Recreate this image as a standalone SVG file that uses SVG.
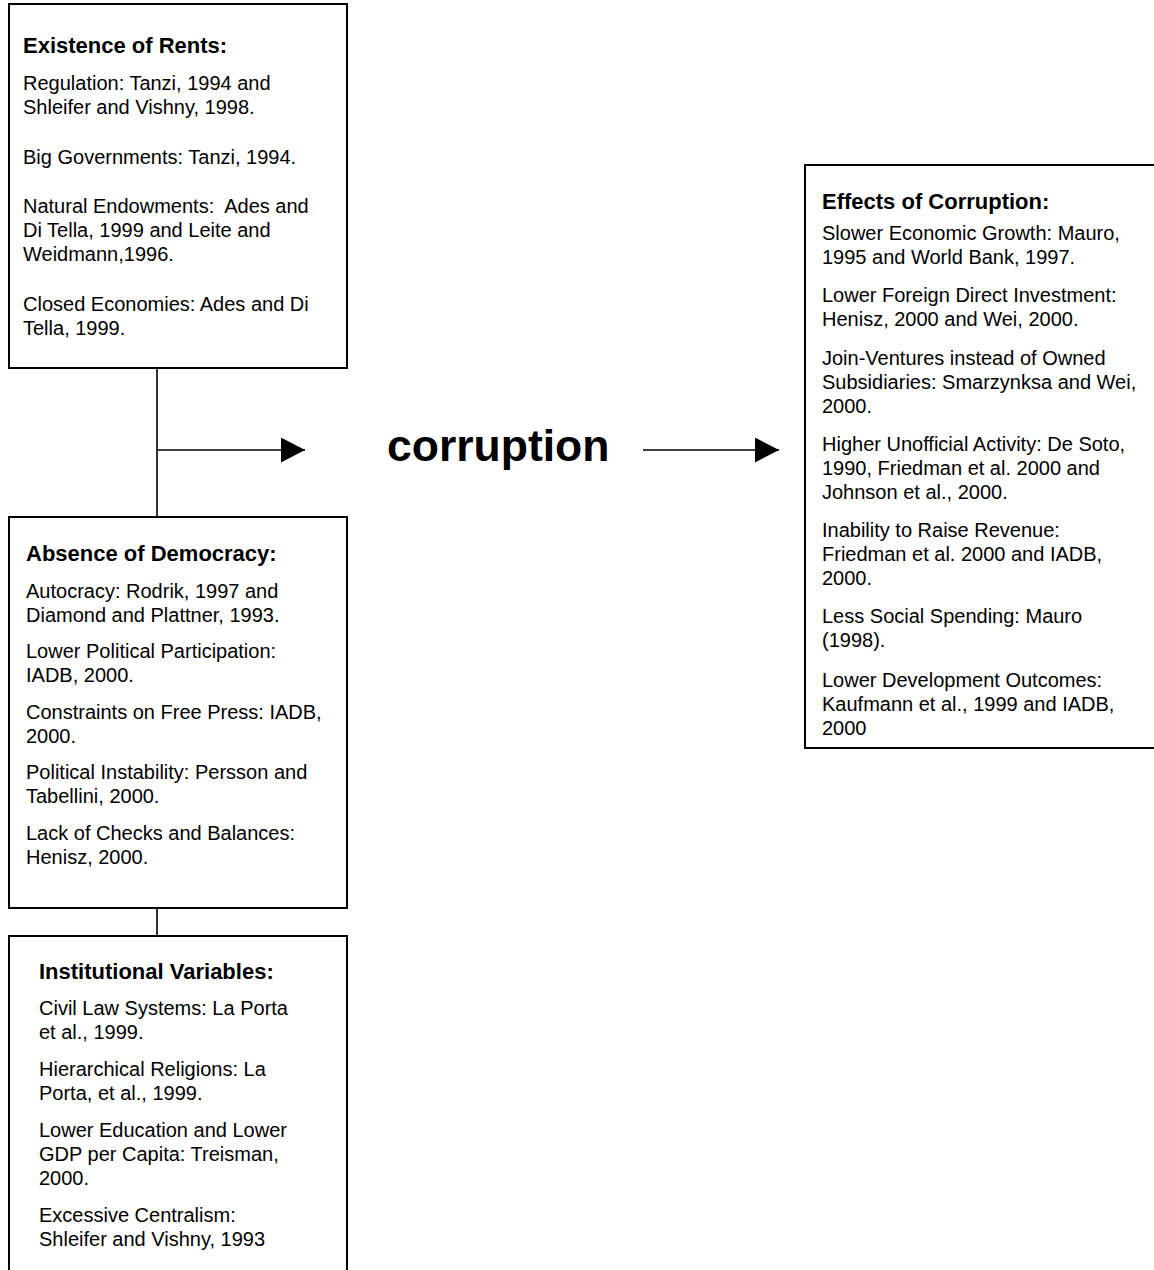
<svg xmlns="http://www.w3.org/2000/svg" width="1154" height="1270" viewBox="0 0 1154 1270">
<style>
.box{fill:#fff;stroke:#000;stroke-width:2}
.h{font-family:"Liberation Sans",Arial,sans-serif;font-size:22px;font-weight:bold;fill:#000}
.t{font-family:"Liberation Sans",Arial,sans-serif;font-size:20px;fill:#000}
.c{font-family:"Liberation Sans",Arial,sans-serif;font-size:44.5px;font-weight:bold;fill:#000}
.ln{stroke:#000;stroke-width:1.6;fill:none}
</style>
<defs>
<marker id="ah" markerWidth="24" markerHeight="25" refX="24" refY="12.5" orient="auto" markerUnits="userSpaceOnUse">
<path d="M0,0 L24,12.5 L0,25 Z" fill="#000"/>
</marker>
</defs>
<rect width="1154" height="1270" fill="#fff"/>
<g id="connectors">
<line class="ln" x1="157" y1="368" x2="157" y2="517"/>
<line class="ln" x1="157" y1="908" x2="157" y2="936"/>
<line class="ln" x1="157" y1="450" x2="305" y2="450" marker-end="url(#ah)"/>
<line class="ln" x1="643" y1="450" x2="779" y2="450" marker-end="url(#ah)"/>
</g>
<g id="rents">
<rect class="box" x="9" y="4" width="338" height="364"/>
<text class="h" x="23" y="53">Existence of Rents:</text>
<text class="t" x="23" y="90">Regulation: Tanzi, 1994 and</text>
<text class="t" x="23" y="114">Shleifer and Vishny, 1998.</text>
<text class="t" x="23" y="164">Big Governments: Tanzi, 1994.</text>
<text class="t" x="23" y="213" xml:space="preserve">Natural Endowments:  Ades and</text>
<text class="t" x="23" y="237">Di Tella, 1999 and Leite and</text>
<text class="t" x="23" y="261">Weidmann,1996.</text>
<text class="t" x="23" y="311">Closed Economies: Ades and Di</text>
<text class="t" x="23" y="335">Tella, 1999.</text>
</g>
<g id="democracy">
<rect class="box" x="9" y="517" width="338" height="391"/>
<text class="h" x="26" y="561">Absence of Democracy:</text>
<text class="t" x="26" y="598">Autocracy: Rodrik, 1997 and</text>
<text class="t" x="26" y="622">Diamond and Plattner, 1993.</text>
<text class="t" x="26" y="658">Lower Political Participation:</text>
<text class="t" x="26" y="682">IADB, 2000.</text>
<text class="t" x="26" y="719">Constraints on Free Press: IADB,</text>
<text class="t" x="26" y="743">2000.</text>
<text class="t" x="26" y="779">Political Instability: Persson and</text>
<text class="t" x="26" y="803">Tabellini, 2000.</text>
<text class="t" x="26" y="840">Lack of Checks and Balances:</text>
<text class="t" x="26" y="864">Henisz, 2000.</text>
</g>
<g id="institutional">
<rect class="box" x="9" y="936" width="338" height="345"/>
<text class="h" x="39" y="979">Institutional Variables:</text>
<text class="t" x="39" y="1015">Civil Law Systems: La Porta</text>
<text class="t" x="39" y="1039">et al., 1999.</text>
<text class="t" x="39" y="1076">Hierarchical Religions: La</text>
<text class="t" x="39" y="1100">Porta, et al., 1999.</text>
<text class="t" x="39" y="1137">Lower Education and Lower</text>
<text class="t" x="39" y="1161">GDP per Capita: Treisman,</text>
<text class="t" x="39" y="1185">2000.</text>
<text class="t" x="39" y="1222">Excessive Centralism:</text>
<text class="t" x="39" y="1246">Shleifer and Vishny, 1993</text>
</g>
<g id="corruption">
<text class="c" x="387" y="461">corruption</text>
</g>
<g id="effects">
<rect class="box" x="805" y="165" width="360" height="583"/>
<text class="h" x="822" y="209">Effects of Corruption:</text>
<text class="t" x="822" y="240">Slower Economic Growth: Mauro,</text>
<text class="t" x="822" y="264">1995 and World Bank, 1997.</text>
<text class="t" x="822" y="302">Lower Foreign Direct Investment:</text>
<text class="t" x="822" y="326">Henisz, 2000 and Wei, 2000.</text>
<text class="t" x="822" y="365">Join-Ventures instead of Owned</text>
<text class="t" x="822" y="389">Subsidiaries: Smarzynksa and Wei,</text>
<text class="t" x="822" y="413">2000.</text>
<text class="t" x="822" y="451">Higher Unofficial Activity: De Soto,</text>
<text class="t" x="822" y="475">1990, Friedman et al. 2000 and</text>
<text class="t" x="822" y="499">Johnson et al., 2000.</text>
<text class="t" x="822" y="537">Inability to Raise Revenue:</text>
<text class="t" x="822" y="561">Friedman et al. 2000 and IADB,</text>
<text class="t" x="822" y="585">2000.</text>
<text class="t" x="822" y="623">Less Social Spending: Mauro</text>
<text class="t" x="822" y="647">(1998).</text>
<text class="t" x="822" y="687">Lower Development Outcomes:</text>
<text class="t" x="822" y="711">Kaufmann et al., 1999 and IADB,</text>
<text class="t" x="822" y="735">2000</text>
</g>
</svg>
